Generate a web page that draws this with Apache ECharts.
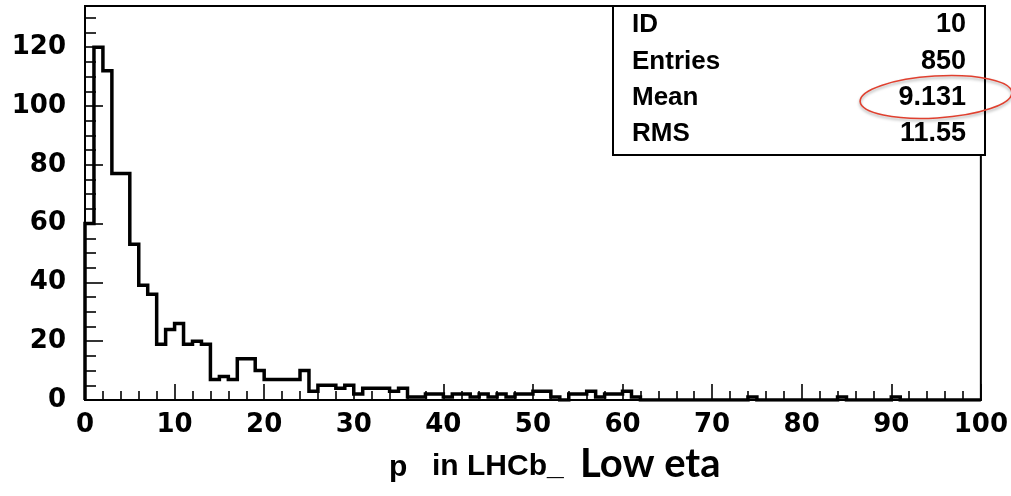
<!DOCTYPE html>
<html style="height: 100%">
<head>
    <meta charset="utf-8">
</head>
<body style="height: 100%; margin: 0; background: #fff">
<div id="container" style="width: 1011px; height: 496px"></div>
<script type="text/javascript" src="https://cdn.jsdelivr.net/npm/echarts@6/dist/echarts.min.js"></script>
<script type="text/javascript">
    // histogram: 100 bins of width 1 between 0 and 100
    var histMin = 0;
    var histMax = 100;
    var counts = [
        60, 120, 112, 77, 77, 53, 39, 36, 19, 24,
        26, 19, 20, 19, 7, 8, 7, 14, 14, 10,
        7, 7, 7, 7, 10, 3, 5, 5, 4, 5,
        2, 4, 4, 4, 3, 4, 1, 1, 2, 2,
        1, 2, 2, 1, 2, 1, 2, 1, 2, 2,
        3, 3, 1, 0, 2, 2, 3, 1, 2, 2,
        3, 1, 0, 0, 0, 0, 0, 0, 0, 0,
        0, 0, 0, 0, 1, 0, 0, 0, 0, 0,
        0, 0, 0, 0, 1, 0, 0, 0, 0, 0,
        1, 0, 0, 0, 0, 0, 0, 0, 0, 0
    ];
    var xTicks = [0, 10, 20, 30, 40, 50, 60, 70, 80, 90, 100];
    var yTicks = [0, 20, 40, 60, 80, 100, 120];
    var statNames = ['ID', 'Entries', 'Mean', 'RMS'];
    var statValues = ['10', '850', '9.131', '11.55'];
    var xTitle = 'p';
    var xTitle2 = 'in LHCb';
    var note = 'Low eta';

    var dom = document.getElementById("container");
    var myChart = echarts.init(dom);

    // step outline: start at the axis, one point per bin low edge, back down at the end
    var binWidth = (histMax - histMin) / counts.length;
    var outline = [[histMin, 0]];
    counts.forEach(function (c, i) {
        outline.push([histMin + i * binWidth, c]);
    });
    outline.push([histMax, 0]);

    var labelFont = {
        color: '#000',
        fontFamily: 'DejaVu Sans',
        fontWeight: 'bold',
        fontSize: 26
    };

    var graphics = [{
        type: 'rect',
        shape: {x: 613, y: 6, width: 372, height: 149},
        style: {fill: '#fff', stroke: '#000', lineWidth: 2},
        z: 10
    }];
    var rowY = [25, 62, 98, 134];
    statNames.forEach(function (name, i) {
        graphics.push({
            type: 'text', x: 632, y: rowY[i], z: 11,
            style: {
                text: name, fill: '#000', font: 'bold 26px "Liberation Sans"',
                align: 'left', verticalAlign: 'middle'
            }
        });
        graphics.push({
            type: 'text', x: 966, y: rowY[i], z: 11,
            style: {
                text: statValues[i], fill: '#000', font: 'bold 27px "Liberation Sans"',
                align: 'right', verticalAlign: 'middle'
            }
        });
    });
    graphics.push({
        type: 'ellipse', x: 936, y: 97, rotation: 0.06, z: 12,
        shape: {cx: 0, cy: 0, rx: 76, ry: 21},
        style: {
            fill: 'none', stroke: '#e0402f', lineWidth: 1.6,
            shadowBlur: 3, shadowColor: 'rgba(0,0,0,0.35)', shadowOffsetY: 2
        }
    });
    graphics.push({
        type: 'text', x: 389, y: 468,
        style: {text: xTitle, fill: '#000', font: 'bold 30px "Liberation Sans"', verticalAlign: 'middle'}
    });
    graphics.push({
        type: 'text', x: 432, y: 467,
        style: {text: xTitle2 + '_', fill: '#000', font: 'bold 30px "Liberation Sans"', verticalAlign: 'middle'}
    });
    graphics.push({
        type: 'text', x: 580, y: 464,
        style: {text: note, fill: '#000', font: 'bold 40px Lato', verticalAlign: 'middle'}
    });

    var option = {
        animation: false,
        backgroundColor: '#fff',
        grid: {
            left: 85, right: 26, top: 6, bottom: 96,
            show: true, borderColor: '#000', borderWidth: 2, backgroundColor: '#fff'
        },
        xAxis: {
            type: 'value',
            min: histMin, max: histMax, interval: xTicks[1] - xTicks[0],
            axisLine: {lineStyle: {color: '#000', width: 2}},
            axisTick: {inside: true, length: 16, lineStyle: {color: '#000', width: 1.6}},
            minorTick: {show: true, splitNumber: 5, length: 9, lineStyle: {color: '#000', width: 1.6}},
            splitLine: {show: false},
            axisLabel: Object.assign({margin: 12}, labelFont)
        },
        yAxis: {
            type: 'value',
            min: 0, max: 134, interval: yTicks[1] - yTicks[0],
            axisLine: {show: true, lineStyle: {color: '#000', width: 2}},
            axisTick: {show: true, inside: true, length: 18, lineStyle: {color: '#000', width: 1.6}},
            minorTick: {show: true, splitNumber: 4, length: 11, lineStyle: {color: '#000', width: 1.6}},
            splitLine: {show: false},
            axisLabel: Object.assign({
                margin: 19,
                formatter: function (v) {
                    return yTicks.indexOf(v) >= 0 ? String(v) : '';
                }
            }, labelFont)
        },
        series: [{
            type: 'line',
            step: 'end',
            data: outline,
            symbol: 'none',
            clip: true,
            lineStyle: {color: '#000', width: 3.5, join: 'miter'},
            z: 5
        }],
        graphic: graphics
    };

    myChart.setOption(option);
</script>
</body>
</html>
